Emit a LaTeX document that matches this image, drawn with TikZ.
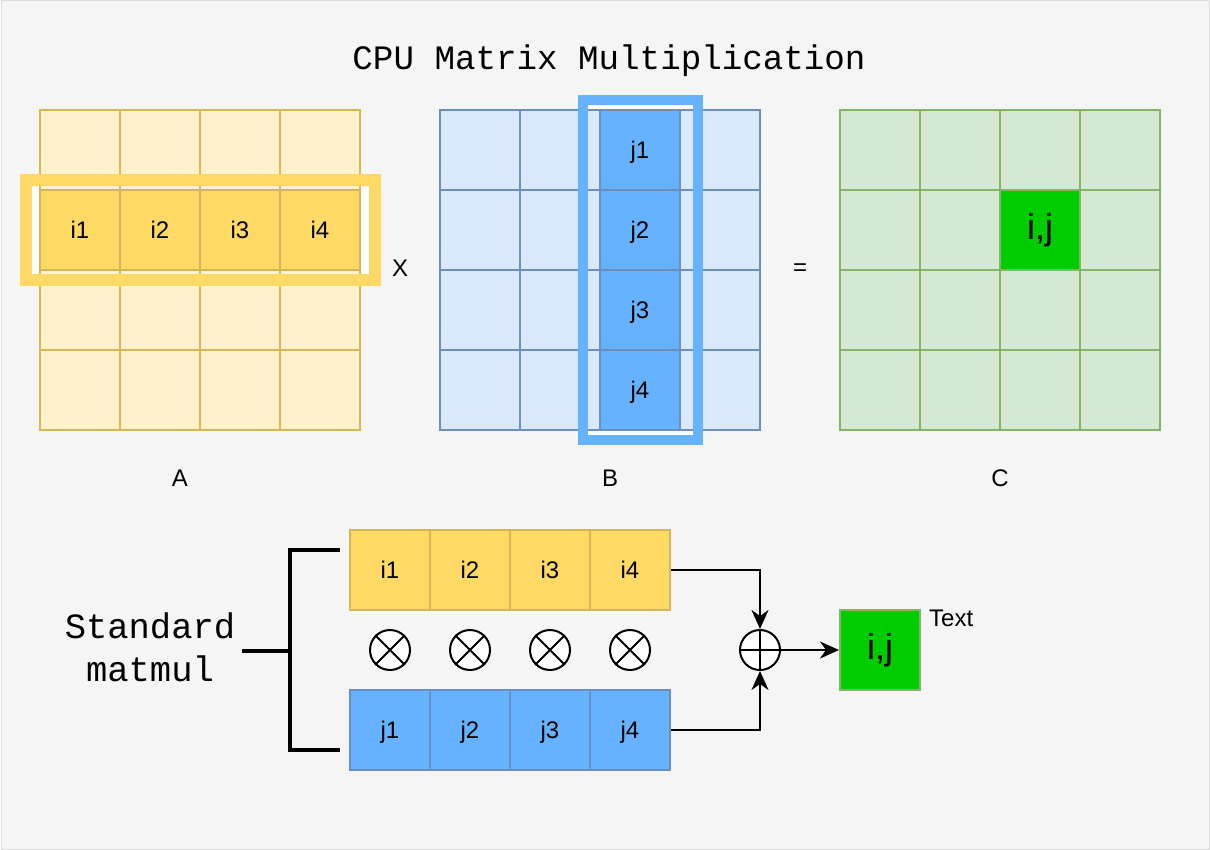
\documentclass[tikz,border=0pt]{standalone}
\usepackage{fontspec}
\setmainfont{Liberation Sans}
\newfontfamily\monofont{Liberation Mono}
\usetikzlibrary{arrows.meta}
\definecolor{bgc}{HTML}{F5F5F5}
\definecolor{bgline}{HTML}{DDDDDD}
\definecolor{ylight}{HTML}{FFF2CC}
\definecolor{ystroke}{HTML}{D6B656}
\definecolor{yhl}{HTML}{FFD966}
\definecolor{blight}{HTML}{DAE8FC}
\definecolor{bstroke}{HTML}{6C8EBF}
\definecolor{bhl}{HTML}{66B2FF}
\definecolor{glight}{HTML}{D5E8D4}
\definecolor{gstroke}{HTML}{82B366}
\definecolor{ghl}{HTML}{00CC00}
\begin{document}
\begin{tikzpicture}[x=1pt,y=-1pt,
  font=\fontsize{24}{28}\selectfont,
  cell/.style={draw, line width=2pt, minimum width=80pt, minimum height=80pt,
    inner sep=0pt, text height=17pt, text depth=0pt},
  acell/.style={cell, fill=ylight, draw=ystroke},
  acellh/.style={cell, fill=yhl, draw=ystroke},
  bcell/.style={cell, fill=blight, draw=bstroke},
  bcellh/.style={cell, fill=bhl, draw=bstroke},
  ccell/.style={cell, fill=glight, draw=gstroke},
  ccellh/.style={cell, fill=ghl, draw=gstroke, font=\fontsize{36}{40}\selectfont, text height=19pt},
  opcirc/.style={circle, draw, fill=white, line width=2pt, minimum size=40pt, inner sep=0pt},
  conn/.style={line width=2pt, -{Stealth[length=19pt,width=17pt,inset=6pt]}},
  brace/.style={line width=4pt},
  lbl/.style={inner sep=0pt}
]
\useasboundingbox (0,0) rectangle (1210,850);
\draw[fill=bgc, draw=bgline, line width=1pt] (1,1) rectangle (1209,849);

% title
\node[lbl, anchor=base, font=\monofont\fontsize{34.2}{40}\selectfont] (title) at (609,70) {CPU Matrix Multiplication};

% white backgrounds inside highlight frames
\fill[white] (32,187) rectangle (369,274);
\fill[white] (588,106) rectangle (693,435);

% matrix A
\foreach \r in {1,3,4}
  \foreach \c in {1,...,4}
    \node[acell] (A\r\c) at ({80*\c},{70+80*\r}) {};
\foreach \c in {1,...,4}
  \node[acellh] (A2\c) at ({80*\c},230) {i\c};

% matrix B
\foreach \r in {1,...,4}
  \foreach \c in {1,2,4}
    \node[bcell] (B\r\c) at ({400+80*\c},{70+80*\r}) {};
\foreach \r in {1,...,4}
  \node[bcellh] (B\r3) at (640,{70+80*\r}) {j\r};

% matrix C
\foreach \r in {1,3,4}
  \foreach \c in {1,...,4}
    \node[ccell] (C\r\c) at ({800+80*\c},{70+80*\r}) {};
\foreach \c in {1,2,4}
  \node[ccell] (C2\c) at ({800+80*\c},230) {};
\node[ccellh] (C23) at (1040,230) {i,j};

% highlight frames
\node[draw=yhl, line width=12pt, minimum width=349pt, minimum height=99.5pt, inner sep=0pt] (Aframe) at (200.5,230.25) {};
\node[draw=bhl, line width=10pt, minimum width=115pt, minimum height=340pt, inner sep=0pt] (Bframe) at (640.5,270) {};

% operators and labels
\node[lbl] (times) at (400,268) {X};
\node[lbl] (equals) at (800,270) {=};
\node[lbl] (labA) at (180,478) {A};
\node[lbl] (labB) at (610,478) {B};
\node[lbl] (labC) at (1000,478) {C};

% bottom rows
\foreach \c in {1,...,4} {
  \node[acellh] (P i\c) at ({310+80*\c},570) {i\c};
  \node[bcellh] (P j\c) at ({310+80*\c},730) {j\c};
  \node[opcirc] (M\c) at ({310+80*\c},650) {};
  \draw[line width=2pt] (M\c.north west) -- (M\c.south east);
  \draw[line width=2pt] (M\c.north east) -- (M\c.south west);
}

% sum
\node[opcirc] (plus) at (760,650) {};
\draw[line width=2pt] (plus.north) -- (plus.south);
\draw[line width=2pt] (plus.west) -- (plus.east);

% result
\node[ccellh] (res) at (880,650) {i,j};
\node[lbl, anchor=base west] (txt) at (929,626) {Text};

\draw[conn] (P i4.east) -| (plus.north);
\draw[conn] (P j4.east) -| (plus.south);
\draw[conn] (plus.east) -- (res.west);

% standard matmul label and bracket
\node[lbl, align=center, font=\monofont\fontsize{35.5}{43}\selectfont] (std) at (150,647) {Standard\\matmul};
\coordinate (bt) at (340,550);
\coordinate (bb) at (340,750);
\coordinate (bm) at (242,651);
\draw[brace] (bt) -- (290,550) -- (290,750) -- (bb);
\draw[brace] (bm) -- (290,651);
\end{tikzpicture}
\end{document}
